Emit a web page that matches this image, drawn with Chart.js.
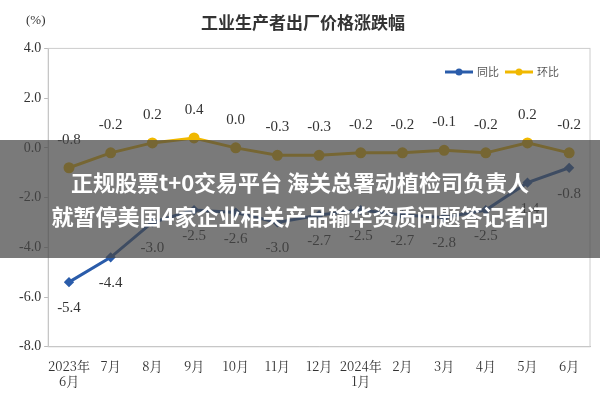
<!DOCTYPE html><html><head><meta charset="utf-8">
<script src="https://cdn.jsdelivr.net/npm/chart.js@4"></script>
<style>body{margin:0;background:#fff;font-family:"Noto Sans CJK SC"}#w{position:relative;width:600px;height:400px}
#ban{position:absolute;left:0;top:140px;width:600px;height:118px;background:rgba(70,70,70,0.72);color:#fff;font-weight:bold;font-size:22px;line-height:34px;text-align:center;padding-top:24px;box-sizing:border-box;font-family:"Noto Sans CJK SC"}</style>
</head><body><div id="w"><canvas id="c" width="600" height="400"></canvas>
<div id="ban">正规股票t+0交易平台 海关总署动植检司负责人<br>就暂停美国4家企业相关产品输华资质问题答记者问</div></div>
<script>
const categories=[["2023年","6月"],"7月","8月","9月","10月","11月","12月",["2024年","1月"],"2月","3月","4月","5月","6月"];
const yoy=[-5.4,-4.4,-3.0,-2.5,-2.6,-3.0,-2.7,-2.5,-2.7,-2.8,-2.5,-1.4,-0.8];
const mom=[-0.8,-0.2,0.2,0.4,0.0,-0.3,-0.3,-0.2,-0.2,-0.1,-0.2,0.2,-0.2];
const yTicks=[4,2,0,-2,-4,-6,-8];
const lbl={id:'lbl',afterDatasetsDraw(ch){const x=ch.ctx;x.save();x.font='15px "Liberation Serif"';x.fillStyle='#333';x.textAlign='center';
ch.getDatasetMeta(1).data.forEach((p,i)=>{x.fillText(mom[i].toFixed(1),p.x,p.y-24);});
ch.getDatasetMeta(0).data.forEach((p,i)=>{x.fillText(yoy[i].toFixed(1),p.x,p.y+30);});
// legend
const L=[['同比','#2a5caa',445],['环比','#f0b800',505]];x.font='11px "Noto Sans CJK SC"';x.textAlign='left';
L.forEach(([t,c,lx])=>{x.strokeStyle=c;x.fillStyle=c;x.lineWidth=3;x.beginPath();x.moveTo(lx,72);x.lineTo(lx+28,72);x.stroke();x.beginPath();x.arc(lx+14,72,3.5,0,7);x.fill();x.fillStyle='#555';x.fillText(t,lx+32,76);});
x.restore();}};
new Chart(document.getElementById('c'),{type:'line',data:{labels:categories,datasets:[
{label:'同比',data:yoy,borderColor:'#2a5caa',backgroundColor:'#2a5caa',borderWidth:3,pointRadius:3,pointStyle:'rectRot'},
{label:'环比',data:mom,borderColor:'#f0b800',backgroundColor:'#f0b800',borderWidth:3,pointRadius:4}]},
options:{responsive:false,animation:false,layout:{padding:{left:16,right:10,top:0,bottom:8}},
plugins:{title:{display:true,text:'工业生产者出厂价格涨跌幅',font:{size:17,weight:'bold',family:'"Noto Sans CJK SC"'},color:'#333',padding:{top:12,bottom:16}},
legend:{display:false},tooltip:{enabled:false}},
scales:{x:{offset:true,grid:{display:false},border:{color:'#bbb'},ticks:{autoSkip:false,color:'#333',maxRotation:0,font:{size:13,family:'"Noto Serif CJK SC","Noto Sans CJK SC"'}}},
y:{min:-8,max:4,afterBuildTicks:a=>{a.ticks=yTicks.map(v=>({value:v}))},grid:{drawOnChartArea:false,tickLength:4,color:'#bbb'},border:{color:'#bbb'},
ticks:{color:'#333',font:{size:14,family:'"Liberation Serif"'},callback:v=>v.toFixed(1)}}}},
plugins:[lbl,{id:'box',afterDraw(ch){const a=ch.chartArea,x=ch.ctx;x.save();x.strokeStyle='#ccc';x.strokeRect(a.left,a.top,a.width,a.height);
x.font='13px "Liberation Serif"';x.fillStyle='#333';x.textAlign='left';x.fillText('(%)',26,24);x.restore();}}]});
</script></body></html>
